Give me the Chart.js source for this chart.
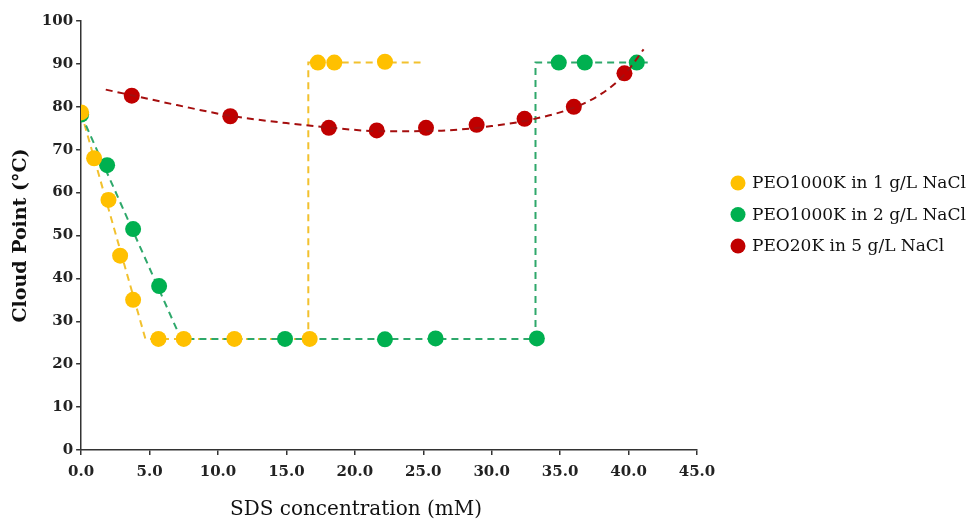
<!DOCTYPE html>
<html>
<head>
<meta charset="utf-8">
<script src="https://cdn.jsdelivr.net/npm/chart.js@4"></script>
<style>
  html, body { margin: 0; padding: 0; background: #fff; }
  #wrap { width: 979px; height: 522px; }
</style>
</head>
<body>
<div id="wrap"><canvas id="cloudChart"></canvas></div>
<script>
// measured points (SDS mM, cloud point °C)
const nacl1Points = [
  [0, 78.7], [0.95, 68], [2.0, 58.3], [2.85, 45.3], [3.8, 35],
  [5.65, 25.9], [7.5, 25.9], [11.2, 25.9], [16.7, 25.9],
  [17.3, 90.3], [18.5, 90.3], [22.2, 90.5]
];
const nacl2Points = [
  [0, 78.2], [1.9, 66.4], [3.8, 51.5], [5.7, 38.2],
  [14.9, 25.9], [22.2, 25.8], [25.9, 26], [33.3, 26],
  [34.9, 90.3], [36.8, 90.3], [40.6, 90.3]
];
const nacl5Points = [
  [3.7, 82.6], [10.9, 77.8], [18.1, 75.1], [21.6, 74.5], [25.2, 75.1],
  [28.9, 75.8], [32.4, 77.2], [36.0, 80.0], [39.7, 87.8]
];

// dashed guide lines
const nacl1Trend = [[0, 78.7], [4.7, 25.9], [16.6, 25.9], [16.6, 90.3], [24.8, 90.3]];
const nacl2Trend = [[0, 78.2], [7.3, 25.9], [33.2, 25.9], [33.2, 90.3], [41.4, 90.3]];
const nacl5Trend = [
  [1.8, 84.0], [3.7, 82.7], [7, 80.4], [10.9, 77.9], [15, 76.2], [18, 75.2],
  [22, 74.3], [26, 74.4], [30, 75.5], [33, 77.1], [36, 79.8], [38, 83.0],
  [39.7, 87.5], [41.1, 93.4]
];

const seriesNames = ['PEO1000K in 1 g/L NaCl', 'PEO1000K in 2 g/L NaCl', 'PEO20K in 5 g/L NaCl'];
const xTicks = [0, 5, 10, 15, 20, 25, 30, 35, 40, 45];
const yTicks = [0, 10, 20, 30, 40, 50, 60, 70, 80, 90, 100];
const xTitle = 'SDS concentration (mM)';

const yellow = '#FFC000', green = '#00B050', red = '#C00000';
const toXY = arr => arr.map(p => ({ x: p[0], y: p[1] }));

function pointSet(label, pts, color, order) {
  return {
    label: label, data: toXY(pts), showLine: false,
    backgroundColor: color, borderColor: color,
    pointRadius: 8, pointHoverRadius: 8, pointBorderWidth: 0,
    pointStyle: 'circle', order: order
  };
}
function trendSet(pts, color, order) {
  return {
    label: '', data: toXY(pts), showLine: true,
    borderColor: color, borderWidth: 2, borderDash: [7, 5],
    pointRadius: 0, fill: false, tension: 0, order: order
  };
}

const red5Trend = trendSet(nacl5Trend, '#A50E0E', 2);
red5Trend.cubicInterpolationMode = 'monotone';

const font = '"DejaVu Serif", "Liberation Serif", serif';

// legend on the right and the x title (sits left of centre in the original)
const sideLegend = {
  id: 'sideLegend',
  afterDraw(chart) {
    const ctx = chart.ctx;
    const x0 = 738, y0 = 183, step = 31.5;
    ctx.save();
    ctx.font = '17px ' + font;
    ctx.textBaseline = 'middle';
    chart.data.datasets.filter(d => d.label).forEach((d, i) => {
      const y = y0 + i * step;
      ctx.fillStyle = d.backgroundColor;
      ctx.beginPath();
      ctx.arc(x0, y, 7.5, 0, Math.PI * 2);
      ctx.fill();
      ctx.fillStyle = '#111';
      ctx.fillText(d.label, x0 + 14, y + 1);
    });
    ctx.font = '20px ' + font;
    ctx.textAlign = 'center';
    ctx.fillText(xTitle, 356, 510);
    ctx.restore();
  }
};

new Chart(document.getElementById('cloudChart'), {
  type: 'scatter',
  data: {
    datasets: [
      pointSet(seriesNames[0], nacl1Points, yellow, 3),
      pointSet(seriesNames[1], nacl2Points, green, 4),
      pointSet(seriesNames[2], nacl5Points, red, 5),
      trendSet(nacl1Trend, '#F2C12E', 7),
      trendSet(nacl2Trend, '#2EA86B', 6),
      red5Trend
    ]
  },
  plugins: [sideLegend],
  options: {
    responsive: true,
    maintainAspectRatio: false,
    animation: false,
    layout: { padding: { top: 21, right: 282, bottom: 33, left: 10 } },
    plugins: {
      tooltip: { enabled: false },
      legend: { display: false }
    },
    scales: {
      x: {
        type: 'linear', min: 0, max: 45,
        afterBuildTicks: axis => { axis.ticks = xTicks.map(v => ({ value: v })); },
        ticks: {
          color: '#222', padding: 8,
          font: { family: font, size: 15, weight: 'bold' },
          callback: v => v.toFixed(1)
        },
        grid: { drawOnChartArea: false, drawTicks: true, tickLength: 5, color: '#333', lineWidth: 1.5 },
        border: { color: '#333', width: 1.5 },
        title: { display: false }
      },
      y: {
        type: 'linear', min: 0, max: 100,
        afterBuildTicks: axis => { axis.ticks = yTicks.map(v => ({ value: v })); },
        ticks: {
          color: '#222', padding: 3,
          font: { family: font, size: 15, weight: 'bold' }
        },
        grid: { drawOnChartArea: false, drawTicks: true, tickLength: 5, color: '#333', lineWidth: 1.5 },
        border: { color: '#333', width: 1.5 },
        title: {
          display: true, text: 'Cloud Point (°C)', color: '#111',
          font: { family: font, size: 19, weight: 'bold' }, padding: { top: 0, bottom: 6 }
        }
      }
    }
  }
});
</script>
</body>
</html>
